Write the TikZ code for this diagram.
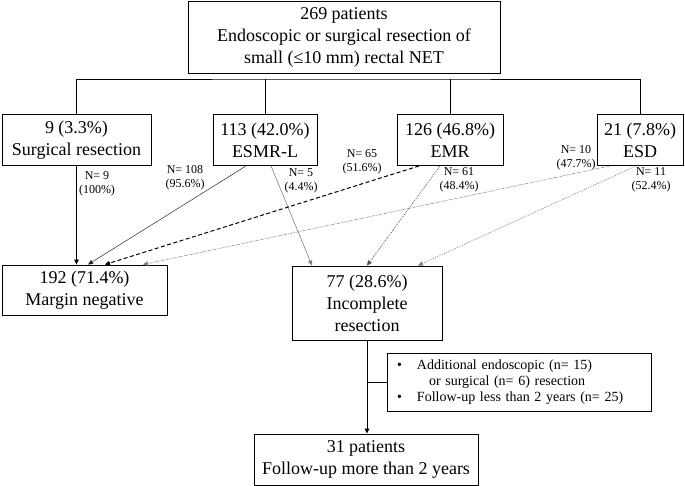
\documentclass[tikz,border=0pt]{standalone}
\usepackage{fontspec}
\setmainfont{Liberation Serif}
\usetikzlibrary{arrows.meta}

\tikzset{
	box/.style = {draw, line width=0.9pt, align=center, inner sep=0pt, font=\fontsize{18}{22}\selectfont},
	lab/.style = {align=center, inner sep=0pt, font=\fontsize{12}{14}\selectfont},
	arr/.style = {-{Triangle[length=5pt,width=4.5pt]}},
}

\begin{document}
\begin{tikzpicture}[x=1pt,y=-1pt]
	\useasboundingbox (0,0) rectangle (685,486);
	\node[box, minimum width=312, minimum height=72] (all) at (344,37) {269 patients\\Endoscopic or surgical resection of\\small (≤10 mm) rectal NET};
	\node[box, minimum width=149, minimum height=51] (surg) at (76.5,140) {9 (3.3\%)\\Surgical resection};
	\node[box, minimum width=104, minimum height=51] (esmr) at (265,140) {113 (42.0\%)\\ESMR-L};
	\node[box, minimum width=106, minimum height=51] (emr) at (450,140) {126 (46.8\%)\\EMR};
	\node[box, minimum width=86, minimum height=51] (esd) at (640,140) {21 (7.8\%)\\ESD};
	\node[box, minimum width=165, minimum height=50] (neg) at (84.5,290) {192 (71.4\%)\\Margin negative};
	\node[box, minimum width=150, minimum height=74] (inc) at (367,303) {77 (28.6\%)\\Incomplete\\resection};
	\node[box, minimum width=264, minimum height=58, align=left, inner xsep=10pt, text width=244,
		font=\fontsize{14}{16}\selectfont] (excl) at (519,382)
		{\makebox[20pt][l]{\textbullet}Additional endoscopic (n= 15)\\
		 \hspace*{32pt}or surgical (n= 6) resection\\
		 \makebox[20pt][l]{\textbullet}Follow-up less than 2 years (n= 25)};
	\node[box, minimum width=224, minimum height=51] (fu) at (366,459.5) {31 patients\\Follow-up more than 2 years};

	% tree under the top box
	\coordinate (bar) at (344,79);
	\draw[line width=0.8pt] (surg.north) |- (bar) -| (esd.north);
	\draw[line width=0.8pt] (esmr.north) -- (esmr.north |- bar);
	\draw[line width=0.8pt] (emr.north) -- (emr.north |- bar);

	% outcomes
	\draw[arr, line width=0.8pt] (surg.south) -- (surg.south |- neg.north);
	\draw[arr, line width=0.5pt, black!85] ([xshift=-19]esmr.south) -- ([xshift=3.5]neg.north);
	\draw[arr, line width=0.6pt, gray] ([xshift=6]esmr.south) -- ([xshift=-55]inc.north);
	\draw[arr, line width=1pt, dash pattern=on 4pt off 2.5pt] ([xshift=-31]emr.south) -- ([xshift=20.5]neg.north);
	\draw[arr, line width=0.6pt, black!70, dash pattern=on 1pt off 1pt] ([xshift=-10]emr.south) -- (inc.north);
	\draw[arr, line width=0.5pt, gray, dash pattern=on 3pt off 1pt on 1pt off 1pt] ([xshift=-30]esd.south) -- ([xshift=58.5]neg.north);
	\draw[arr, line width=0.6pt, gray, dash pattern=on 1pt off 1pt] ([xshift=-4]esd.south) -- ([xshift=51]inc.north);

	\node[lab] (l9) at (97,184) {N= 9\\(100\%)};
	\node[lab] (l108) at (185,178) {N= 108\\(95.6\%)};
	\node[lab] (l5) at (301,181) {N= 5\\(4.4\%)};
	\node[lab] (l65) at (362,162) {N= 65\\(51.6\%)};
	\node[lab] (l61) at (459,180) {N= 61\\(48.4\%)};
	\node[lab] (l10) at (576,158) {N= 10\\(47.7\%)};
	\node[lab] (l11) at (651,180) {N= 11\\(52.4\%)};

	% follow-up
	\draw[arr, line width=0.8pt] (inc.south) -- (inc.south |- fu.north);
	\draw[line width=0.5pt] (excl.west) -- (excl.west -| inc.south);
\end{tikzpicture}
\end{document}
